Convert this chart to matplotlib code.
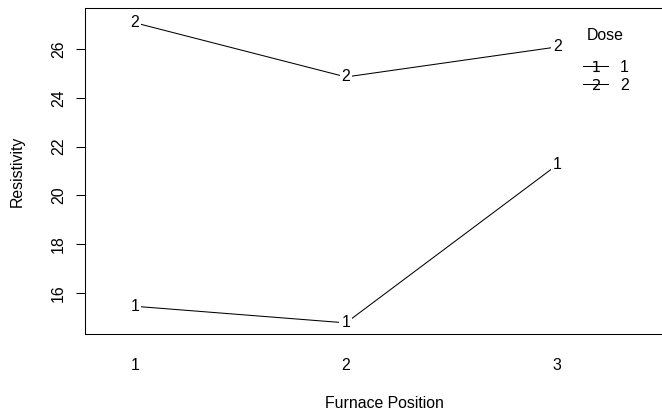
import numpy as np
import matplotlib
matplotlib.use('Agg')
import matplotlib.pyplot as plt
from matplotlib.lines import Line2D

plt.rcParams['font.family'] = ['Liberation Sans', 'DejaVu Sans']
plt.rcParams['font.size'] = 11.4

# data
positions = [1, 2, 3]
pos_labels = ['1', '2', '3']
dose_levels = ['1', '2']
dose1 = [15.46, 14.78, 21.25]
dose2 = [27.07, 24.85, 26.08]
yticks = [16, 18, 20, 22, 24, 26]

fig = plt.figure(figsize=(6.62, 4.13), dpi=100)
ax = fig.add_axes([0.128, 0.191, 0.905, 0.790])
ax.set_xlim(0.763, 3.6)
ax.set_ylim(14.32, 27.68)

for vals, lab in zip([dose1, dose2], dose_levels):
    ax.plot(positions, vals, color='black', lw=0.75)
    for x, y in zip(positions, vals):
        ax.text(x, y, lab, ha='center', va='center',
                bbox=dict(facecolor='white', edgecolor='none', pad=1.5))

ax.spines['right'].set_visible(False)
for s in ['left', 'bottom', 'top']:
    ax.spines[s].set_linewidth(0.75)

ax.set_xticks(positions)
ax.set_xticklabels(pos_labels)
ax.tick_params(axis='x', length=0, pad=17)
ax.set_yticks(yticks)
ax.set_yticklabels([str(t) for t in yticks], rotation=90, va='center')
ax.tick_params(axis='y', length=6.5, width=0.75, pad=7)

ax.set_xlabel('Furnace Position', labelpad=17)
ax.set_ylabel('Resistivity', labelpad=19)

# legend
fig.text(605 / 662, 1 - 35 / 413, 'Dose', ha='center', va='center')
handles = [Line2D([], [], color='black', lw=0.75, marker='$%s$' % d,
                  markersize=8, markeredgewidth=0) for d in dose_levels]
fig.legend(handles, dose_levels, loc='upper left',
           bbox_to_anchor=(583 / 662, 1 - 60 / 413), frameon=False,
           handlelength=1.58, handletextpad=0.76, labelspacing=0.17,
           borderpad=0, borderaxespad=0)

fig.savefig('out.png', dpi=100)
